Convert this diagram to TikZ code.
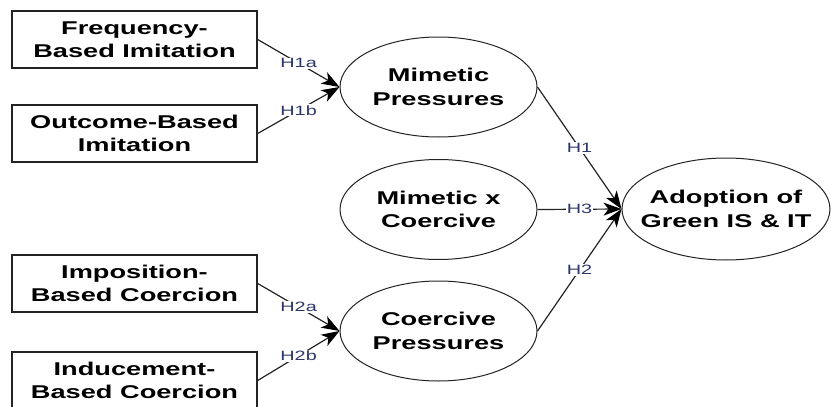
\documentclass[tikz,border=0pt]{standalone}
\usepackage{fontspec}
\setmainfont{Liberation Sans}[FakeStretch=1.47]
\usetikzlibrary{shapes.geometric,arrows.meta}
\definecolor{edgecol}{RGB}{35,35,35}
\definecolor{lblcol}{RGB}{45,55,105}
\tikzset{
  construct/.style={draw=edgecol, line width=1.4pt, fill=white, minimum width=245pt,
    minimum height=57pt, inner sep=0pt, align=center,
    font=\bfseries\fontsize{18.5}{23.5}\selectfont},
  latent/.style={draw=edgecol, line width=1pt, ellipse, minimum width=197pt,
    minimum height=100pt, inner sep=0pt},
  latenttext/.style={align=center, inner sep=0pt,
    font=\bfseries\fontsize{18.5}{23.5}\selectfont},
  path arrow/.style={draw=edgecol, line width=1.2pt,
    -{Stealth[length=18pt,width=13pt,inset=5pt,fill=black,color=black]}},
  hyp/.style={fill=white, inner sep=1pt, text=lblcol,
    font=\fontsize{13.5}{14}\selectfont}
}
\begin{document}
\begin{tikzpicture}[x=1pt,y=-1pt]
\useasboundingbox (0,0) rectangle (831,407);
% antecedents
\node[construct] (freq) at (134.5,39.5) {Frequency-\\Based Imitation};
\node[construct] (outc) at (134.5,133.5) {Outcome-Based\\Imitation};
\node[construct] (impo) at (134.5,283.5) {Imposition-\\Based Coercion};
\node[construct] (indu) at (134.5,380.5) {Inducement-\\Based Coercion};
% latent constructs
\node[latent] (mim) at (438.5,87) {};
\node[latenttext] (mimt) at (mim) {Mimetic\\Pressures};
\node[latent] (mxc) at (438.5,209.5) {};
\node[latenttext] (mxct) at (mxc) {Mimetic x\\Coercive};
\node[latent] (coe) at (438.5,331) {};
\node[latenttext] (coet) at (coe) {Coercive\\Pressures};
\node[latent, minimum width=208pt, minimum height=102pt] (adopt) at (726,209) {};
\node[latenttext] (adoptt) at (adopt) {Adoption of\\Green IS \& IT};
% hypothesised paths
\draw[path arrow] (freq.east) -- node[hyp] {H1a} (mim.west);
\draw[path arrow] (outc.east) -- node[hyp] {H1b} (mim.west);
\draw[path arrow] (impo.east) -- node[hyp] {H2a} (coe.west);
\draw[path arrow] (indu.east) -- node[hyp] {H2b} (coe.west);
\draw[path arrow] (mim.east) -- node[hyp] {H1} (adopt.west);
\draw[path arrow] (mxc.east) -- node[hyp] {H3} (adopt.west);
\draw[path arrow] (coe.east) -- node[hyp] {H2} (adopt.west);
\end{tikzpicture}
\end{document}
